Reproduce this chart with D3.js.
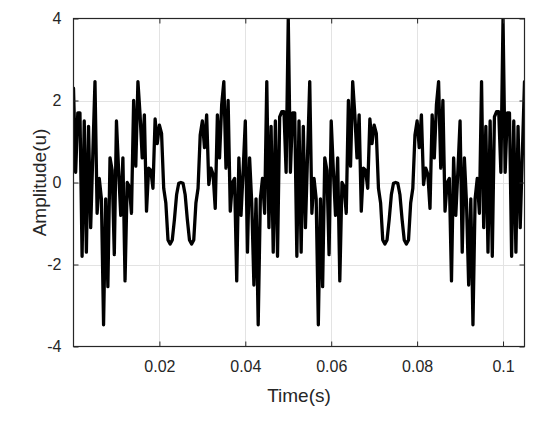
<!DOCTYPE html>
<html>
<head>
<meta charset="utf-8">
<script src="https://cdn.jsdelivr.net/npm/d3@7"></script>
<style>
  html, body { margin: 0; padding: 0; background: #ffffff; }
  svg { display: block; }
  text { font-family: "Liberation Sans", Arial, Helvetica, sans-serif; fill: #262626; }
</style>
</head>
<body>
<svg id="chart" width="550" height="422"></svg>
<script>
// ---- data ----
const sampleStep = 0.0005;            // seconds between samples
const amplitude = [
  2.3,
  0.25,1.7,1.7,-1.8,1.5,-1.7,1.37,-1.1,0.7,2.46,-0.75,0.1,-0.4,-3.47,-0.4,-2.54,0.6,0.3,-1.76,1.5,
  0.3,-0.8,0.6,-2.4,0.0,-0.1,-0.75,2.0,0.4,2.46,1.65,0.6,1.65,-0.7,0.35,0.3,-0.14,1.55,0.95,1.4,1.2,
  -0.14,-0.5,-1.4,-1.5,-1.4,-0.9,-0.3,-0.02,0.0,-0.02,-0.3,-0.9,-1.4,-1.5,-1.4,-0.5,-0.14,
  1.16,1.5,0.85,1.65,-0.05,0.35,0.2,-0.63,1.65,0.6,1.9,2.46,0.35,2.0,-0.7,0.0,0.1,-2.4,0.6,-0.8,0.3,
  1.5,-1.7,0.6,-0.5,-2.5,-0.4,-3.47,-0.4,0.1,-0.75,2.46,-1.1,1.37,-1.7,1.5,-1.8,1.6,1.73,1.73,0.25,
  4.0,
  0.25,1.7,1.7,-1.8,1.5,-1.7,1.37,-1.1,0.7,2.46,-0.75,0.1,-0.4,-3.47,-0.4,-2.54,0.6,0.3,-1.76,1.5,
  0.3,-0.8,0.6,-2.4,0.0,-0.1,-0.75,2.0,0.4,2.46,1.65,0.6,1.65,-0.7,0.35,0.3,-0.14,1.55,0.95,1.4,1.2,
  -0.14,-0.5,-1.4,-1.5,-1.4,-0.9,-0.3,-0.02,0.0,-0.02,-0.3,-0.9,-1.4,-1.5,-1.4,-0.5,-0.14,
  1.16,1.5,0.85,1.65,-0.05,0.35,0.2,-0.63,1.65,0.6,1.9,2.46,0.35,2.0,-0.7,0.0,0.1,-2.4,0.6,-0.8,0.3,
  1.5,-1.7,0.6,-0.5,-2.5,-0.4,-3.47,-0.4,0.1,-0.75,2.46,-1.1,1.37,-1.7,1.5,-1.8,1.6,1.73,1.73,0.25,
  4.0,
  0.25,1.7,1.7,-1.8,1.5,-1.7,1.37,-1.1,0.7,2.46
];
const xDomain = [0, 0.105];
const yDomain = [-4, 4];
const xTicks = [0.02, 0.04, 0.06, 0.08, 0.1];
const xTickLabels = ["0.02", "0.04", "0.06", "0.08", "0.1"];
const yTicks = [-4, -2, 0, 2, 4];
const yTickLabels = ["-4", "-2", "0", "2", "4"];
const xLabel = "Time(s)";
const yLabel = "Amplitude(u)";

// ---- layout ----
const W = 550, H = 422;
const plot = { left: 73.5, right: 524.5, top: 18.5, bottom: 346.5 };

const svg = d3.select("#chart");
const x = d3.scaleLinear().domain(xDomain).range([plot.left, plot.right]);
const y = d3.scaleLinear().domain(yDomain).range([plot.bottom, plot.top]);

const points = amplitude.map((v, i) => ({ t: i * sampleStep, v }));

// grid
const grid = svg.append("g").attr("class", "grid");
grid.selectAll("line.gx").data(xTicks).join("line")
  .attr("x1", d => Math.round(x(d)) + 0.5).attr("x2", d => Math.round(x(d)) + 0.5)
  .attr("y1", plot.top).attr("y2", plot.bottom)
  .attr("stroke", "#e3e3e3").attr("stroke-width", 1);
grid.selectAll("line.gy").data(yTicks.filter(d => d !== -4 && d !== 4)).join("line")
  .attr("y1", d => Math.round(y(d)) + 0.5).attr("y2", d => Math.round(y(d)) + 0.5)
  .attr("x1", plot.left).attr("x2", plot.right)
  .attr("stroke", "#e3e3e3").attr("stroke-width", 1);

// clip
svg.append("clipPath").attr("id", "clip").append("rect")
  .attr("x", plot.left).attr("y", plot.top)
  .attr("width", plot.right - plot.left).attr("height", plot.bottom - plot.top);

// signal
const line = d3.line().x(d => x(d.t)).y(d => y(d.v));
svg.append("path").datum(points)
  .attr("clip-path", "url(#clip)")
  .attr("fill", "none").attr("stroke", "#000").attr("stroke-width", 3.3)
  .attr("stroke-linejoin", "round").attr("stroke-linecap", "round")
  .attr("d", line);

// axes (MATLAB-like box with inward ticks)
const tickLen = 5;
const axisColor = "#262626";
const xAxisB = d3.axisBottom(x).tickValues(xTicks).tickSizeInner(-tickLen).tickSizeOuter(0)
  .tickFormat((d, i) => xTickLabels[i]).tickPadding(14);
const gxb = svg.append("g").attr("transform", `translate(0,${plot.bottom})`).call(xAxisB);
const xAxisT = d3.axisTop(x).tickValues(xTicks).tickSizeInner(-tickLen).tickSizeOuter(0).tickFormat("");
const gxt = svg.append("g").attr("transform", `translate(0,${plot.top})`).call(xAxisT);
const yAxisL = d3.axisLeft(y).tickValues(yTicks).tickSizeInner(-tickLen).tickSizeOuter(0)
  .tickFormat((d, i) => yTickLabels[i]).tickPadding(12);
const gyl = svg.append("g").attr("transform", `translate(${plot.left},0)`).call(yAxisL);
const yAxisR = d3.axisRight(y).tickValues(yTicks).tickSizeInner(-tickLen).tickSizeOuter(0).tickFormat("");
const gyr = svg.append("g").attr("transform", `translate(${plot.right},0)`).call(yAxisR);

[gxb, gxt, gyl, gyr].forEach(g => {
  g.select(".domain").remove();
  g.selectAll(".tick line").attr("stroke", axisColor).attr("stroke-width", 1);
  g.selectAll(".tick text").attr("font-size", 16).attr("fill", axisColor)
    .attr("font-family", '"Liberation Sans", Arial, sans-serif');
});

// box
svg.append("rect").attr("x", plot.left).attr("y", plot.top)
  .attr("width", plot.right - plot.left).attr("height", plot.bottom - plot.top)
  .attr("fill", "none").attr("stroke", axisColor).attr("stroke-width", 1.2);

// axis labels
svg.append("text").attr("x", (plot.left + plot.right) / 2).attr("y", 402)
  .attr("text-anchor", "middle").attr("font-size", 19).text(xLabel);
svg.append("text")
  .attr("transform", `translate(46,${(plot.top + plot.bottom) / 2}) rotate(-90)`)
  .attr("text-anchor", "middle").attr("font-size", 19).text(yLabel);
</script>
</body>
</html>
